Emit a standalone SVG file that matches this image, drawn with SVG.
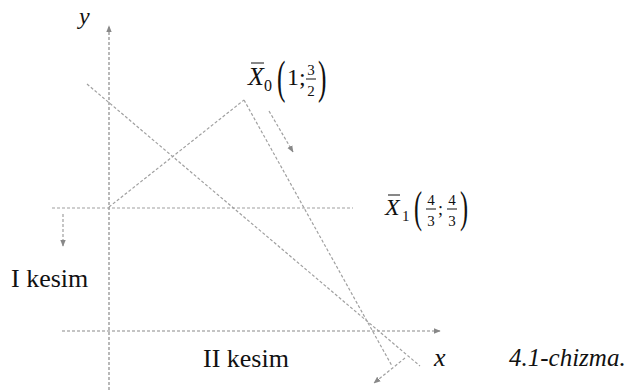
<svg xmlns="http://www.w3.org/2000/svg" width="629" height="390" viewBox="0 0 629 390">
<style>
  .ax { stroke: #8a8a8a; stroke-width: 1.2; stroke-dasharray: 3 2; fill: none; }
  .ln { stroke: #a0a0a0; stroke-width: 1.2; stroke-dasharray: 3 2; fill: none; }
  .t { font-family: "Liberation Serif", "Times New Roman", serif; fill: #111; }
  .it { font-style: italic; }
  .bar { stroke: #111; stroke-width: 1; }
</style>
<defs>
  <marker id="ah" viewBox="0 0 10 10" refX="9" refY="5" markerWidth="7" markerHeight="7" orient="auto" markerUnits="userSpaceOnUse">
    <path d="M0,1 L10,5 L0,9 Z" fill="#888"/>
  </marker>
</defs>
<rect width="629" height="390" fill="#fff"/>
<g id="connectors">
  <line id="y-axis" class="ax" x1="109" y1="390" x2="109" y2="26" marker-end="url(#ah)"/>
  <line id="x-axis" class="ax" x1="62" y1="331" x2="440" y2="331" marker-end="url(#ah)"/>
  <line id="cut1" class="ln" x1="52" y1="208" x2="353" y2="208"/>
  <line id="cut1-dir" class="ln" x1="63" y1="214" x2="63" y2="246" marker-end="url(#ah)"/>
  <line id="edge-a" class="ln" x1="109" y1="207" x2="244" y2="100"/>
  <line id="edge-b" class="ln" x1="244" y1="100" x2="392" y2="366"/>
  <line id="cut2" class="ln" x1="87" y1="84" x2="420" y2="366"/>
  <line id="cut2-dir" class="ln" x1="269" y1="111" x2="293" y2="152" marker-end="url(#ah)"/>
  <line id="edge-b-dir" class="ln" x1="405" y1="358" x2="374" y2="383" marker-end="url(#ah)"/>
</g>
<g id="label-y"><text class="t it" x="79" y="24" font-size="24">y</text></g>
<g id="label-X0">
  <text class="t it" x="248" y="85" font-size="26">X</text>
  <line class="bar" x1="251" y1="63" x2="264" y2="63"/>
  <text class="t" x="264" y="91" font-size="16">0</text>
  <text class="t" font-size="46" transform="translate(277,93) scale(0.55,1)">(</text>
  <text class="t" x="287" y="85" font-size="24">1;</text>
  <text class="t" x="311" y="75" font-size="15" text-anchor="middle">3</text>
  <line class="bar" x1="306" y1="79" x2="316" y2="79"/>
  <text class="t" x="311" y="96" font-size="15" text-anchor="middle">2</text>
  <text class="t" font-size="46" transform="translate(318,93) scale(0.55,1)">)</text>
</g>
<g id="label-X1">
  <text class="t it" x="385" y="215" font-size="24">X</text>
  <line class="bar" x1="388" y1="195" x2="400" y2="195"/>
  <text class="t" x="402" y="221" font-size="15">1</text>
  <text class="t" font-size="44" transform="translate(414,222) scale(0.55,1)">(</text>
  <text class="t" x="431" y="205" font-size="15" text-anchor="middle">4</text>
  <line class="bar" x1="426" y1="209" x2="436" y2="209"/>
  <text class="t" x="431" y="226" font-size="15" text-anchor="middle">3</text>
  <text class="t" x="438" y="215" font-size="18">;</text>
  <text class="t" x="452" y="205" font-size="15" text-anchor="middle">4</text>
  <line class="bar" x1="447" y1="209" x2="457" y2="209"/>
  <text class="t" x="452" y="226" font-size="15" text-anchor="middle">3</text>
  <text class="t" font-size="44" transform="translate(460,222) scale(0.55,1)">)</text>
</g>
<g id="label-cut1"><text class="t" x="11" y="287" font-size="26">I kesim</text></g>
<g id="label-cut2"><text class="t" x="203" y="367" font-size="26">II kesim</text></g>
<g id="label-x"><text class="t it" x="434" y="366" font-size="26">x</text></g>
<g id="caption"><text class="t it" x="509" y="366" font-size="25">4.1-chizma.</text></g>
</svg>
